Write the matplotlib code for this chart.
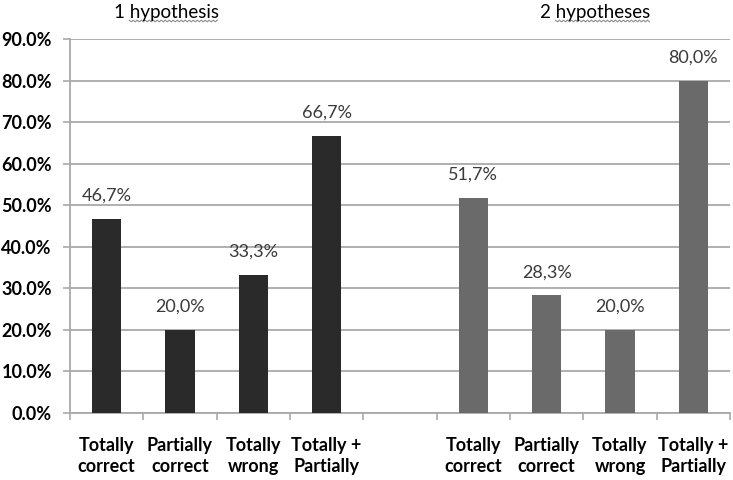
import numpy as np
import matplotlib
matplotlib.use("Agg")
import matplotlib.pyplot as plt
from matplotlib.lines import Line2D

plt.rcParams['font.family'] = ['Lato', 'DejaVu Sans']

# data
groups = ["1 hypothesis", "2 hypotheses"]
categories = ["Totally\ncorrect", "Partially\ncorrect", "Totally\nwrong", "Totally +\nPartially"]
one_hyp = [46.7, 20.0, 33.3, 66.7]
two_hyp = [51.7, 28.3, 20.0, 80.0]
bar_colors = ["#2a2a2a", "#6a6a6a"]
grey = "#a9a9a9"

fig = plt.figure(figsize=(7.33, 4.8), dpi=100)
ax = fig.add_axes([70/733, 1 - 413/480, 660/733, (413 - 39)/480])

pos1 = np.arange(len(categories)) + 0.5
pos2 = pos1 + len(categories) + 1

for pos, vals, col in [(pos1, one_hyp, bar_colors[0]), (pos2, two_hyp, bar_colors[1])]:
    bars = ax.bar(pos, vals, width=0.4, color=col, zorder=3)
    for b, v in zip(bars, vals):
        ax.annotate(("%.1f%%" % v).replace(".", ","), (b.get_x() + b.get_width()/2, v),
                    xytext=(0, 13), textcoords="offset points", ha="center", va="baseline",
                    fontsize=13, color="#3a3a3a")

ax.set_xlim(0, 9)
ax.set_ylim(0, 90)
ax.set_yticks(np.arange(0, 91, 10))
ax.set_yticklabels(["%.1f%%" % t for t in np.arange(0, 91, 10)], fontsize=13, fontweight="bold")
ax.yaxis.grid(True, color=grey, linewidth=1.3, zorder=0)
ax.set_axisbelow(True)

ax.set_xticks(np.arange(0, 10))
ax.set_xticklabels([])
ax.set_xticks(np.concatenate([pos1, pos2]), minor=True)
ax.set_xticklabels(categories * 2, minor=True, fontsize=13, fontweight="bold", linespacing=1.3)
ax.tick_params(axis="x", which="minor", length=0, pad=17)
ax.tick_params(axis="x", which="major", length=5, color=grey, width=1.2)
ax.tick_params(axis="y", length=5, color=grey, width=1.2, pad=8)

for s in ["top", "right"]:
    ax.spines[s].set_visible(False)
for s in ["left", "bottom"]:
    ax.spines[s].set_color(grey)
    ax.spines[s].set_linewidth(1.3)

titles = [fig.text(166/733, 1 - 18/480, groups[0], ha="center", va="baseline", fontsize=13.5),
          fig.text(595/733, 1 - 18/480, groups[1], ha="center", va="baseline", fontsize=13.5)]

# wavy spell-check underline below the second word of each title
r = fig.canvas.get_renderer()
for t in titles:
    bb = t.get_window_extent(r)
    pre = fig.text(0, 0, t.get_text().split(" ")[0] + " ", fontsize=13.5)
    w0 = pre.get_window_extent(r).width
    pre.remove()
    xs = np.arange(bb.x0 + w0, bb.x1, 2.0)
    ys = (480 - 21) + np.where(np.arange(len(xs)) % 2 == 0, 0.8, -0.8)
    fig.add_artist(Line2D(xs / 733, ys / 480, color="#8c8c8c", linewidth=0.8))

fig.savefig("out.png", dpi=100)
